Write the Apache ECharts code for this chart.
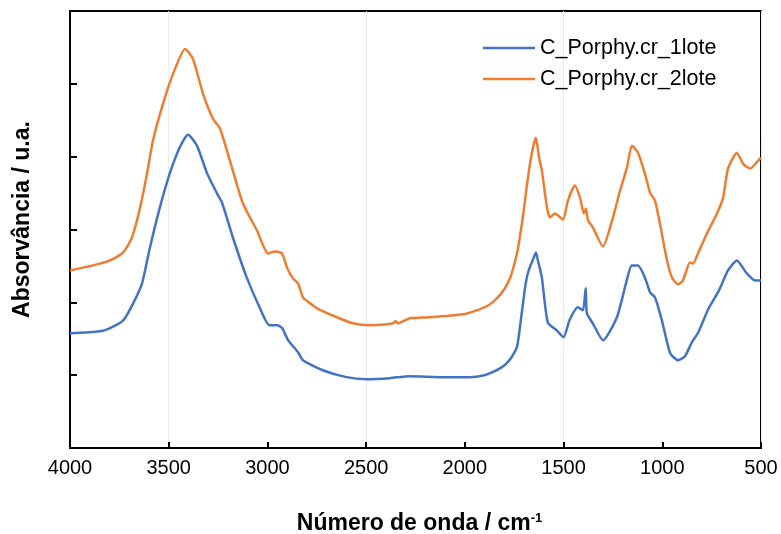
<!DOCTYPE html>
<html>
<head>
<meta charset="utf-8">
<script src="https://cdn.jsdelivr.net/npm/echarts@6/dist/echarts.min.js"></script>
<style>
  html, body { margin: 0; padding: 0; background: #fff; overflow: hidden; }
  #chart { width: 781px; height: 534px; }
</style>
</head>
<body>
<div id="chart"></div>
<script>
// FTIR spectra: wavenumber (cm-1) and absorbance (arbitrary units)
const seriesNames = ['C_Porphy.cr_1lote', 'C_Porphy.cr_2lote'];

const wnLote1 = [4000, 3850, 3800, 3730, 3680, 3635, 3595, 3545, 3495, 3445, 3402, 3357, 3305, 3255, 3230, 3175, 3105, 3040, 2990, 2950, 2925, 2895, 2845, 2820, 2720, 2600, 2500, 2380, 2280, 2110, 1975, 1900, 1860, 1820, 1790, 1760, 1735, 1712, 1695, 1679, 1653, 1640, 1630, 1620, 1610, 1580, 1535, 1500, 1470, 1428, 1402, 1388, 1382, 1352, 1300, 1230, 1180, 1155, 1123, 1088, 1062, 1037, 1002, 960, 920, 885, 850, 820, 765, 713, 667, 622, 572, 530, 500];
const absLote1 = [1.575, 1.603, 1.644, 1.753, 1.986, 2.260, 2.753, 3.301, 3.767, 4.123, 4.301, 4.151, 3.767, 3.493, 3.370, 2.890, 2.342, 1.932, 1.685, 1.685, 1.644, 1.479, 1.315, 1.205, 1.068, 0.973, 0.945, 0.959, 0.986, 0.973, 0.973, 1.000, 1.041, 1.096, 1.160, 1.260, 1.400, 1.849, 2.200, 2.420, 2.603, 2.685, 2.575, 2.466, 2.342, 1.726, 1.616, 1.521, 1.753, 1.932, 1.890, 2.192, 1.849, 1.712, 1.479, 1.795, 2.301, 2.507, 2.507, 2.342, 2.137, 2.068, 1.753, 1.301, 1.205, 1.260, 1.452, 1.575, 1.918, 2.164, 2.438, 2.575, 2.397, 2.301, 2.301];

const wnLote2 = [4000, 3883, 3797, 3731, 3686, 3645, 3610, 3580, 3529, 3478, 3417, 3377, 3326, 3276, 3240, 3190, 3124, 3053, 2997, 2962, 2926, 2901, 2871, 2845, 2820, 2784, 2749, 2648, 2567, 2481, 2395, 2364, 2350, 2340, 2278, 2177, 2010, 1940, 1880, 1838, 1800, 1771, 1750, 1731, 1706, 1690, 1670, 1653, 1640, 1625, 1610, 1584, 1569, 1544, 1503, 1478, 1443, 1417, 1397, 1387, 1376, 1351, 1301, 1250, 1214, 1179, 1154, 1123, 1088, 1062, 1037, 1012, 976, 951, 920, 895, 860, 844, 819, 774, 723, 692, 667, 622, 591, 556, 505, 500];
const absLote2 = [2.438, 2.507, 2.575, 2.685, 2.890, 3.301, 3.767, 4.219, 4.726, 5.137, 5.479, 5.342, 4.863, 4.521, 4.384, 3.945, 3.356, 2.986, 2.671, 2.699, 2.671, 2.479, 2.329, 2.260, 2.068, 1.986, 1.918, 1.795, 1.712, 1.685, 1.699, 1.712, 1.740, 1.712, 1.781, 1.795, 1.836, 1.890, 1.960, 2.055, 2.180, 2.333, 2.520, 2.740, 3.178, 3.520, 3.904, 4.150, 4.260, 4.000, 3.808, 3.301, 3.164, 3.219, 3.137, 3.397, 3.603, 3.438, 3.219, 3.288, 3.123, 3.027, 2.767, 3.164, 3.534, 3.849, 4.151, 4.055, 3.767, 3.507, 3.397, 3.082, 2.575, 2.342, 2.247, 2.301, 2.548, 2.534, 2.671, 2.945, 3.219, 3.438, 3.836, 4.055, 3.904, 3.836, 3.973, 3.990];

const xTicks = { min: 500, max: 4000, step: 500 };
const yRange = { min: 0, max: 6, step: 1 };

const FONT = "'Liberation Sans', Arial, sans-serif";

function pairs(xs, ys) {
  return xs.map((x, i) => [x, ys[i]]);
}

const chart = echarts.init(document.getElementById('chart'), null, { renderer: 'canvas' });

chart.setOption({
  animation: false,
  backgroundColor: '#ffffff',
  grid: {
    left: 70, right: 20, top: 11, bottom: 86,
    containLabel: false,
    outerBoundsMode: 'none',
    show: true, borderColor: '#000', borderWidth: 2, backgroundColor: 'transparent'
  },
  legend: {
    orient: 'vertical',
    left: 478, top: 32,
    icon: 'rect',
    itemWidth: 52, itemHeight: 2.5, itemGap: 9,
    textStyle: { fontFamily: FONT, fontSize: 21.5, lineHeight: 21, color: '#000' },
    data: seriesNames
  },
  xAxis: [
    {
      type: 'value', inverse: true,
      min: xTicks.min, max: xTicks.max, interval: xTicks.step,
      name: '{a|Número de onda / cm}{s|-1}',
      nameLocation: 'middle', nameGap: 64,
      nameTextStyle: {
        padding: [0, 0, 0, 8],
        rich: {
          a: { fontFamily: FONT, fontSize: 23, fontWeight: 'bold', color: '#000' },
          s: { fontFamily: FONT, fontSize: 13, fontWeight: 'bold', color: '#000', padding: [0, 0, 11, 0] }
        }
      },
      axisLine: { show: true, onZero: false, lineStyle: { color: '#000', width: 2 } },
      axisTick: { show: true, inside: true, length: 6, lineStyle: { color: '#000', width: 2 } },
      axisLabel: {
        fontFamily: FONT, fontSize: 20, color: '#000', margin: 10,
        formatter: v => String(v)
      },
      splitLine: { show: false }
    },
    {
      // light vertical guides every 1000 cm-1 starting at 500
      type: 'value', inverse: true, position: 'bottom',
      min: xTicks.min, max: xTicks.max, interval: 1000,
      axisLine: { show: false }, axisTick: { show: false }, axisLabel: { show: false },
      splitLine: { show: true, lineStyle: { color: '#ebebeb', width: 1 } }
    }
  ],
  yAxis: {
    type: 'value',
    min: yRange.min, max: yRange.max, interval: yRange.step,
    name: 'Absorvância / u.a.',
    nameLocation: 'middle', nameGap: 36,
    nameTextStyle: {
      fontFamily: FONT, fontSize: 23, fontWeight: 'bold', color: '#000',
      padding: [0, 0, 0, 20]
    },
    axisLine: { show: true, onZero: false, lineStyle: { color: '#000', width: 2 } },
    axisTick: { show: true, inside: true, length: 7, lineStyle: { color: '#000', width: 2 } },
    axisLabel: { show: false },
    splitLine: { show: false }
  },
  series: [
    {
      name: seriesNames[0], type: 'line', xAxisIndex: 0,
      data: pairs(wnLote1, absLote1),
      symbol: 'none', smooth: 0.2,
      lineStyle: { color: '#4472C4', width: 2.5 },
      itemStyle: { color: '#4472C4' }
    },
    {
      name: seriesNames[1], type: 'line', xAxisIndex: 0,
      data: pairs(wnLote2, absLote2),
      symbol: 'none', smooth: 0.2,
      lineStyle: { color: '#ED7D31', width: 2.5 },
      itemStyle: { color: '#ED7D31' }
    }
  ]
});
</script>
</body>
</html>
